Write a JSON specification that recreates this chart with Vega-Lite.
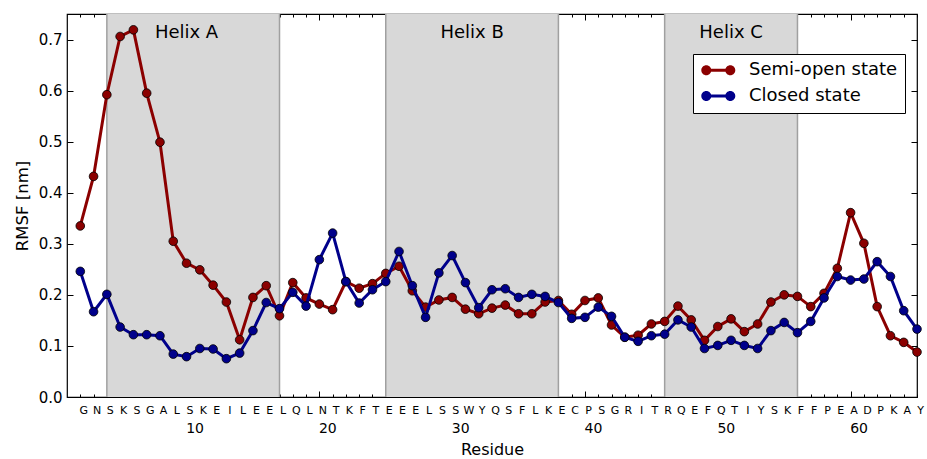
{
  "$schema": "https://vega.github.io/schema/vega-lite/v6.json",
  "width": 850,
  "height": 383,
  "autosize": {"type": "none"},
  "padding": {"left": 67, "top": 14, "right": 10, "bottom": 62},
  "config": {
    "font": "DejaVu Sans",
    "view": {"stroke": "black", "strokeWidth": 1.2},
    "axis": {"grid": false, "domain": false, "tickColor": "black", "tickWidth": 1, "labelColor": "black", "titleColor": "black", "titleFontWeight": "normal"}
  },
  "datasets": {
    "helix": [
      {"name": "Helix A", "start": 4, "end": 17, "label_x": 10, "label_y": 0.712},
      {"name": "Helix B", "start": 25, "end": 38, "label_x": 31.5, "label_y": 0.712},
      {"name": "Helix C", "start": 46, "end": 56, "label_x": 51, "label_y": 0.712}
    ],
    "rmsf": [
      {"residue": 2, "aa": "G", "state": "Semi-open state", "rmsf": 0.335},
      {"residue": 3, "aa": "N", "state": "Semi-open state", "rmsf": 0.432},
      {"residue": 4, "aa": "S", "state": "Semi-open state", "rmsf": 0.592},
      {"residue": 5, "aa": "K", "state": "Semi-open state", "rmsf": 0.706},
      {"residue": 6, "aa": "S", "state": "Semi-open state", "rmsf": 0.719},
      {"residue": 7, "aa": "G", "state": "Semi-open state", "rmsf": 0.595},
      {"residue": 8, "aa": "A", "state": "Semi-open state", "rmsf": 0.499},
      {"residue": 9, "aa": "L", "state": "Semi-open state", "rmsf": 0.305},
      {"residue": 10, "aa": "S", "state": "Semi-open state", "rmsf": 0.262},
      {"residue": 11, "aa": "K", "state": "Semi-open state", "rmsf": 0.249},
      {"residue": 12, "aa": "E", "state": "Semi-open state", "rmsf": 0.219},
      {"residue": 13, "aa": "I", "state": "Semi-open state", "rmsf": 0.186},
      {"residue": 14, "aa": "L", "state": "Semi-open state", "rmsf": 0.112},
      {"residue": 15, "aa": "E", "state": "Semi-open state", "rmsf": 0.195},
      {"residue": 16, "aa": "E", "state": "Semi-open state", "rmsf": 0.218},
      {"residue": 17, "aa": "L", "state": "Semi-open state", "rmsf": 0.159},
      {"residue": 18, "aa": "Q", "state": "Semi-open state", "rmsf": 0.224},
      {"residue": 19, "aa": "L", "state": "Semi-open state", "rmsf": 0.194},
      {"residue": 20, "aa": "N", "state": "Semi-open state", "rmsf": 0.182},
      {"residue": 21, "aa": "T", "state": "Semi-open state", "rmsf": 0.171},
      {"residue": 22, "aa": "K", "state": "Semi-open state", "rmsf": 0.226},
      {"residue": 23, "aa": "F", "state": "Semi-open state", "rmsf": 0.213},
      {"residue": 24, "aa": "T", "state": "Semi-open state", "rmsf": 0.222},
      {"residue": 25, "aa": "E", "state": "Semi-open state", "rmsf": 0.242},
      {"residue": 26, "aa": "E", "state": "Semi-open state", "rmsf": 0.256},
      {"residue": 27, "aa": "E", "state": "Semi-open state", "rmsf": 0.208},
      {"residue": 28, "aa": "L", "state": "Semi-open state", "rmsf": 0.176},
      {"residue": 29, "aa": "S", "state": "Semi-open state", "rmsf": 0.19},
      {"residue": 30, "aa": "S", "state": "Semi-open state", "rmsf": 0.195},
      {"residue": 31, "aa": "W", "state": "Semi-open state", "rmsf": 0.172},
      {"residue": 32, "aa": "Y", "state": "Semi-open state", "rmsf": 0.163},
      {"residue": 33, "aa": "Q", "state": "Semi-open state", "rmsf": 0.174},
      {"residue": 34, "aa": "S", "state": "Semi-open state", "rmsf": 0.18},
      {"residue": 35, "aa": "F", "state": "Semi-open state", "rmsf": 0.163},
      {"residue": 36, "aa": "L", "state": "Semi-open state", "rmsf": 0.163},
      {"residue": 37, "aa": "K", "state": "Semi-open state", "rmsf": 0.186},
      {"residue": 38, "aa": "E", "state": "Semi-open state", "rmsf": 0.189},
      {"residue": 39, "aa": "C", "state": "Semi-open state", "rmsf": 0.162},
      {"residue": 40, "aa": "P", "state": "Semi-open state", "rmsf": 0.189},
      {"residue": 41, "aa": "S", "state": "Semi-open state", "rmsf": 0.194},
      {"residue": 42, "aa": "G", "state": "Semi-open state", "rmsf": 0.141},
      {"residue": 43, "aa": "R", "state": "Semi-open state", "rmsf": 0.117},
      {"residue": 44, "aa": "I", "state": "Semi-open state", "rmsf": 0.121},
      {"residue": 45, "aa": "T", "state": "Semi-open state", "rmsf": 0.143},
      {"residue": 46, "aa": "R", "state": "Semi-open state", "rmsf": 0.148},
      {"residue": 47, "aa": "Q", "state": "Semi-open state", "rmsf": 0.178},
      {"residue": 48, "aa": "E", "state": "Semi-open state", "rmsf": 0.151},
      {"residue": 49, "aa": "F", "state": "Semi-open state", "rmsf": 0.111},
      {"residue": 50, "aa": "Q", "state": "Semi-open state", "rmsf": 0.138},
      {"residue": 51, "aa": "T", "state": "Semi-open state", "rmsf": 0.153},
      {"residue": 52, "aa": "I", "state": "Semi-open state", "rmsf": 0.128},
      {"residue": 53, "aa": "Y", "state": "Semi-open state", "rmsf": 0.143},
      {"residue": 54, "aa": "S", "state": "Semi-open state", "rmsf": 0.186},
      {"residue": 55, "aa": "K", "state": "Semi-open state", "rmsf": 0.2},
      {"residue": 56, "aa": "F", "state": "Semi-open state", "rmsf": 0.197},
      {"residue": 57, "aa": "F", "state": "Semi-open state", "rmsf": 0.177},
      {"residue": 58, "aa": "P", "state": "Semi-open state", "rmsf": 0.203},
      {"residue": 59, "aa": "E", "state": "Semi-open state", "rmsf": 0.252},
      {"residue": 60, "aa": "A", "state": "Semi-open state", "rmsf": 0.361},
      {"residue": 61, "aa": "D", "state": "Semi-open state", "rmsf": 0.301},
      {"residue": 62, "aa": "P", "state": "Semi-open state", "rmsf": 0.177},
      {"residue": 63, "aa": "K", "state": "Semi-open state", "rmsf": 0.12},
      {"residue": 64, "aa": "A", "state": "Semi-open state", "rmsf": 0.107},
      {"residue": 65, "aa": "Y", "state": "Semi-open state", "rmsf": 0.088},
      {"residue": 2, "aa": "G", "state": "Closed state", "rmsf": 0.246},
      {"residue": 3, "aa": "N", "state": "Closed state", "rmsf": 0.167},
      {"residue": 4, "aa": "S", "state": "Closed state", "rmsf": 0.201},
      {"residue": 5, "aa": "K", "state": "Closed state", "rmsf": 0.137},
      {"residue": 6, "aa": "S", "state": "Closed state", "rmsf": 0.122},
      {"residue": 7, "aa": "G", "state": "Closed state", "rmsf": 0.122},
      {"residue": 8, "aa": "A", "state": "Closed state", "rmsf": 0.12},
      {"residue": 9, "aa": "L", "state": "Closed state", "rmsf": 0.084},
      {"residue": 10, "aa": "S", "state": "Closed state", "rmsf": 0.079},
      {"residue": 11, "aa": "K", "state": "Closed state", "rmsf": 0.095},
      {"residue": 12, "aa": "E", "state": "Closed state", "rmsf": 0.094},
      {"residue": 13, "aa": "I", "state": "Closed state", "rmsf": 0.075},
      {"residue": 14, "aa": "L", "state": "Closed state", "rmsf": 0.086},
      {"residue": 15, "aa": "E", "state": "Closed state", "rmsf": 0.13},
      {"residue": 16, "aa": "E", "state": "Closed state", "rmsf": 0.185},
      {"residue": 17, "aa": "L", "state": "Closed state", "rmsf": 0.173},
      {"residue": 18, "aa": "Q", "state": "Closed state", "rmsf": 0.205},
      {"residue": 19, "aa": "L", "state": "Closed state", "rmsf": 0.178},
      {"residue": 20, "aa": "N", "state": "Closed state", "rmsf": 0.269},
      {"residue": 21, "aa": "T", "state": "Closed state", "rmsf": 0.321},
      {"residue": 22, "aa": "K", "state": "Closed state", "rmsf": 0.226},
      {"residue": 23, "aa": "F", "state": "Closed state", "rmsf": 0.184},
      {"residue": 24, "aa": "T", "state": "Closed state", "rmsf": 0.21},
      {"residue": 25, "aa": "E", "state": "Closed state", "rmsf": 0.226},
      {"residue": 26, "aa": "E", "state": "Closed state", "rmsf": 0.285},
      {"residue": 27, "aa": "E", "state": "Closed state", "rmsf": 0.218},
      {"residue": 28, "aa": "L", "state": "Closed state", "rmsf": 0.156},
      {"residue": 29, "aa": "S", "state": "Closed state", "rmsf": 0.243},
      {"residue": 30, "aa": "S", "state": "Closed state", "rmsf": 0.277},
      {"residue": 31, "aa": "W", "state": "Closed state", "rmsf": 0.224},
      {"residue": 32, "aa": "Y", "state": "Closed state", "rmsf": 0.175},
      {"residue": 33, "aa": "Q", "state": "Closed state", "rmsf": 0.21},
      {"residue": 34, "aa": "S", "state": "Closed state", "rmsf": 0.212},
      {"residue": 35, "aa": "F", "state": "Closed state", "rmsf": 0.195},
      {"residue": 36, "aa": "L", "state": "Closed state", "rmsf": 0.201},
      {"residue": 37, "aa": "K", "state": "Closed state", "rmsf": 0.197},
      {"residue": 38, "aa": "E", "state": "Closed state", "rmsf": 0.185},
      {"residue": 39, "aa": "C", "state": "Closed state", "rmsf": 0.154},
      {"residue": 40, "aa": "P", "state": "Closed state", "rmsf": 0.156},
      {"residue": 41, "aa": "S", "state": "Closed state", "rmsf": 0.176},
      {"residue": 42, "aa": "G", "state": "Closed state", "rmsf": 0.158},
      {"residue": 43, "aa": "R", "state": "Closed state", "rmsf": 0.117},
      {"residue": 44, "aa": "I", "state": "Closed state", "rmsf": 0.109},
      {"residue": 45, "aa": "T", "state": "Closed state", "rmsf": 0.12},
      {"residue": 46, "aa": "R", "state": "Closed state", "rmsf": 0.123},
      {"residue": 47, "aa": "Q", "state": "Closed state", "rmsf": 0.151},
      {"residue": 48, "aa": "E", "state": "Closed state", "rmsf": 0.137},
      {"residue": 49, "aa": "F", "state": "Closed state", "rmsf": 0.095},
      {"residue": 50, "aa": "Q", "state": "Closed state", "rmsf": 0.101},
      {"residue": 51, "aa": "T", "state": "Closed state", "rmsf": 0.111},
      {"residue": 52, "aa": "I", "state": "Closed state", "rmsf": 0.101},
      {"residue": 53, "aa": "Y", "state": "Closed state", "rmsf": 0.095},
      {"residue": 54, "aa": "S", "state": "Closed state", "rmsf": 0.13},
      {"residue": 55, "aa": "K", "state": "Closed state", "rmsf": 0.146},
      {"residue": 56, "aa": "F", "state": "Closed state", "rmsf": 0.126},
      {"residue": 57, "aa": "F", "state": "Closed state", "rmsf": 0.148},
      {"residue": 58, "aa": "P", "state": "Closed state", "rmsf": 0.194},
      {"residue": 59, "aa": "E", "state": "Closed state", "rmsf": 0.236},
      {"residue": 60, "aa": "A", "state": "Closed state", "rmsf": 0.229},
      {"residue": 61, "aa": "D", "state": "Closed state", "rmsf": 0.231},
      {"residue": 62, "aa": "P", "state": "Closed state", "rmsf": 0.265},
      {"residue": 63, "aa": "K", "state": "Closed state", "rmsf": 0.236},
      {"residue": 64, "aa": "A", "state": "Closed state", "rmsf": 0.169},
      {"residue": 65, "aa": "Y", "state": "Closed state", "rmsf": 0.133}
    ]
  },
  "resolve": {"axis": {"x": "independent", "y": "independent"}},
  "layer": [
    {
      "data": {"name": "helix"},
      "mark": {"type": "rect", "color": "#d8d8d8"},
      "encoding": {
        "x": {"field": "start", "type": "quantitative", "scale": {"domain": [1, 65], "nice": false, "zero": false},
          "axis": {"orient": "bottom", "values": [2,3,4,5,6,7,8,9,10,11,12,13,14,15,16,17,18,19,20,21,22,23,24,25,26,27,28,29,30,31,32,33,34,35,36,37,38,39,40,41,42,43,44,45,46,47,48,49,50,51,52,53,54,55,56,57,58,59,60,61,62,63,64,65],
            "labelExpr": "substring('GNSKSGALSKEILEELQLNTKFTEEELSSWYQSFLKECPSGRITRQEFQTIYSKFFPEADPKAY', datum.value - 2, datum.value - 1)",
            "tickSize": -3, "labelFontSize": 11, "labelPadding": 10, "labelOffset": 3, "labelOverlap": false, "labelFlush": false, "labelBound": false, "title": null}},
        "x2": {"field": "end"}
      }
    },
    {
      "data": {"name": "helix"},
      "mark": {"type": "rule", "color": "#a0a0a0", "strokeWidth": 1.5},
      "encoding": {"x": {"field": "start", "type": "quantitative", "axis": null}}
    },
    {
      "data": {"name": "helix"},
      "mark": {"type": "rule", "color": "#a0a0a0", "strokeWidth": 1.5},
      "encoding": {"x": {"field": "end", "type": "quantitative", "axis": null}}
    },
    {
      "data": {"name": "helix"},
      "mark": {"type": "text", "fontSize": 18, "color": "black", "align": "center", "baseline": "middle"},
      "encoding": {
        "x": {"field": "label_x", "type": "quantitative",
          "axis": {"orient": "bottom", "values": [10, 20, 30, 40, 50, 60], "format": "d", "tickSize": -6, "labelFontSize": 14, "labelPadding": 30, "labelOffset": 8, "labelFlush": false, "title": "Residue", "titleFontSize": 16, "titlePadding": 6}},
        "y": {"field": "label_y", "type": "quantitative", "scale": {"domain": [0, 0.75], "nice": false},
          "axis": {"orient": "left", "values": [0, 0.1, 0.2, 0.3, 0.4, 0.5, 0.6, 0.7], "format": ".1f", "tickSize": -6, "labelFontSize": 15, "labelPadding": 11, "title": "RMSF [nm]", "titleFontSize": 16.5, "titlePadding": 8}},
        "text": {"field": "name"}
      }
    },
    {
      "data": {"name": "rmsf"},
      "transform": [{"filter": "datum.state == 'Semi-open state'"}],
      "mark": {"type": "line", "color": "#8b0000", "strokeWidth": 3},
      "encoding": {
        "x": {"field": "residue", "type": "quantitative",
          "axis": {"orient": "top", "values": [2,3,4,5,6,7,8,9,10,11,12,13,14,15,16,17,18,19,20,21,22,23,24,25,26,27,28,29,30,31,32,33,34,35,36,37,38,39,40,41,42,43,44,45,46,47,48,49,50,51,52,53,54,55,56,57,58,59,60,61,62,63,64,65], "labels": false, "tickSize": -3, "title": null}},
        "y": {"field": "rmsf", "type": "quantitative",
          "axis": {"orient": "right", "values": [0, 0.1, 0.2, 0.3, 0.4, 0.5, 0.6, 0.7], "labels": false, "tickSize": -6, "title": null}}
      }
    },
    {
      "data": {"name": "rmsf"},
      "transform": [{"filter": "datum.state == 'Semi-open state'"}],
      "mark": {"type": "point", "filled": true, "size": 75, "stroke": "black", "strokeWidth": 0.8, "opacity": 1},
      "encoding": {
        "x": {"field": "residue", "type": "quantitative",
          "axis": {"orient": "top", "values": [10, 20, 30, 40, 50, 60], "labels": false, "tickSize": -6, "title": null}},
        "y": {"field": "rmsf", "type": "quantitative", "axis": null},
        "color": {"field": "state", "type": "nominal",
          "scale": {"domain": ["Semi-open state", "Closed state"], "range": ["#8b0000", "#00008b"]},
          "legend": {"orient": "none", "legendX": 626, "legendY": 40, "title": null, "strokeColor": "black", "fillColor": "white", "padding": 7.3, "cornerRadius": 0,
            "labelFontSize": 18, "labelColor": "black", "labelLimit": 0,
            "symbolType": "M-2.4,-0.3L2.4,-0.3L2.4,0.3L-2.4,0.3Z M-1.4,0A1,1 0 1,1 -3.4,0A1,1 0 1,1 -1.4,0Z M3.4,0A1,1 0 1,1 1.4,0A1,1 0 1,1 3.4,0Z",
            "symbolSize": 100, "symbolOffset": 9, "labelOffset": 21.7, "rowPadding": 7.7, "symbolStrokeWidth": 0, "symbolOpacity": 1}}
      }
    },
    {
      "data": {"name": "rmsf"},
      "transform": [{"filter": "datum.state == 'Closed state'"}],
      "mark": {"type": "line", "color": "#00008b", "strokeWidth": 3},
      "encoding": {
        "x": {"field": "residue", "type": "quantitative", "axis": null},
        "y": {"field": "rmsf", "type": "quantitative", "axis": null}
      }
    },
    {
      "data": {"name": "rmsf"},
      "transform": [{"filter": "datum.state == 'Closed state'"}],
      "mark": {"type": "point", "filled": true, "size": 75, "stroke": "black", "strokeWidth": 0.8, "opacity": 1},
      "encoding": {
        "x": {"field": "residue", "type": "quantitative", "axis": null},
        "y": {"field": "rmsf", "type": "quantitative", "axis": null},
        "color": {"field": "state", "type": "nominal"}
      }
    }
  ]
}
